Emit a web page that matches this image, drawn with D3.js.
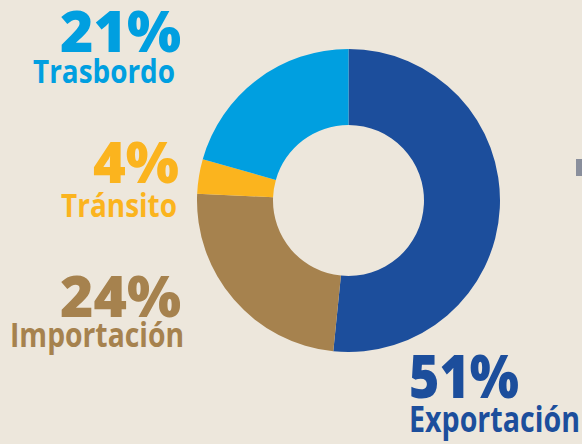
<!DOCTYPE html>
<html lang="es">
<head>
    <meta charset="UTF-8">
    <script src="https://cdn.jsdelivr.net/npm/d3@7"></script>
    <title>Donut</title>
    <style>
        body { margin: 0; background: #ede7dc; }
        svg { display: block; }
        text { font-family: 'Open Sans', sans-serif; }
    </style>
</head>
<body>
    <svg></svg>
    <script>
        // data
        const categories = ['Exportación', 'Importación', 'Tránsito', 'Trasbordo'];
        const shares = [51.6, 24.1, 3.7, 20.6];
        const pctLabels = ['51%', '24%', '4%', '21%'];
        const colors = ['#1c4e9c', '#a6824e', '#fbb41e', '#009fe0'];

        const width = 582, height = 444;
        const svg = d3.select('svg').attr('width', width).attr('height', height);

        svg.append('rect').attr('width', width).attr('height', height).attr('fill', '#ede7dc');

        // little gray tab on the right edge
        svg.append('rect')
            .attr('x', 576).attr('y', 159).attr('width', 6).attr('height', 17)
            .attr('fill', '#8a8f9c');

        const g = svg.append('g').attr('transform', 'translate(348.5,200.5)');

        const pie = d3.pie().sort(null).value(d => d);
        const arc = d3.arc().innerRadius(75.5).outerRadius(151.5);

        g.selectAll('path')
            .data(pie(shares))
            .join('path')
            .attr('d', arc)
            .attr('fill', (d, i) => colors[i]);

        // label layout: x anchors, baselines of % and name, sizes, widths
        const layout = [
            { px: 409, nx: 409, anchor: 'start', py: 398, ny: 432, ps: 60, ns: 35, pw: 110, nw: 171 },
            { px: 181, nx: 184, anchor: 'end',   py: 317, ny: 347, ps: 56, ns: 34, pw: 121, nw: 174 },
            { px: 179, nx: 177, anchor: 'end',   py: 183, ny: 217, ps: 56, ns: 33, pw: 86,  nw: 116 },
            { px: 181, nx: 175, anchor: 'end',   py: 52,  ny: 83,  ps: 56, ns: 33, pw: 121, nw: 142 }
        ];

        const labels = svg.append('g').selectAll('g')
            .data(categories)
            .join('g')
            .attr('fill', (d, i) => colors[i]);

        labels.append('text')
            .attr('x', (d, i) => layout[i].px)
            .attr('y', (d, i) => layout[i].py)
            .attr('text-anchor', (d, i) => layout[i].anchor)
            .attr('font-size', (d, i) => layout[i].ps)
            .attr('font-weight', 800)
            .attr('textLength', (d, i) => layout[i].pw)
            .attr('lengthAdjust', 'spacingAndGlyphs')
            .text((d, i) => pctLabels[i]);

        labels.append('text')
            .attr('x', (d, i) => layout[i].nx)
            .attr('y', (d, i) => layout[i].ny)
            .attr('text-anchor', (d, i) => layout[i].anchor)
            .attr('font-size', (d, i) => layout[i].ns)
            .attr('font-weight', 700)
            .attr('textLength', (d, i) => layout[i].nw)
            .attr('lengthAdjust', 'spacingAndGlyphs')
            .text(d => d);
    </script>
</body>
</html>
